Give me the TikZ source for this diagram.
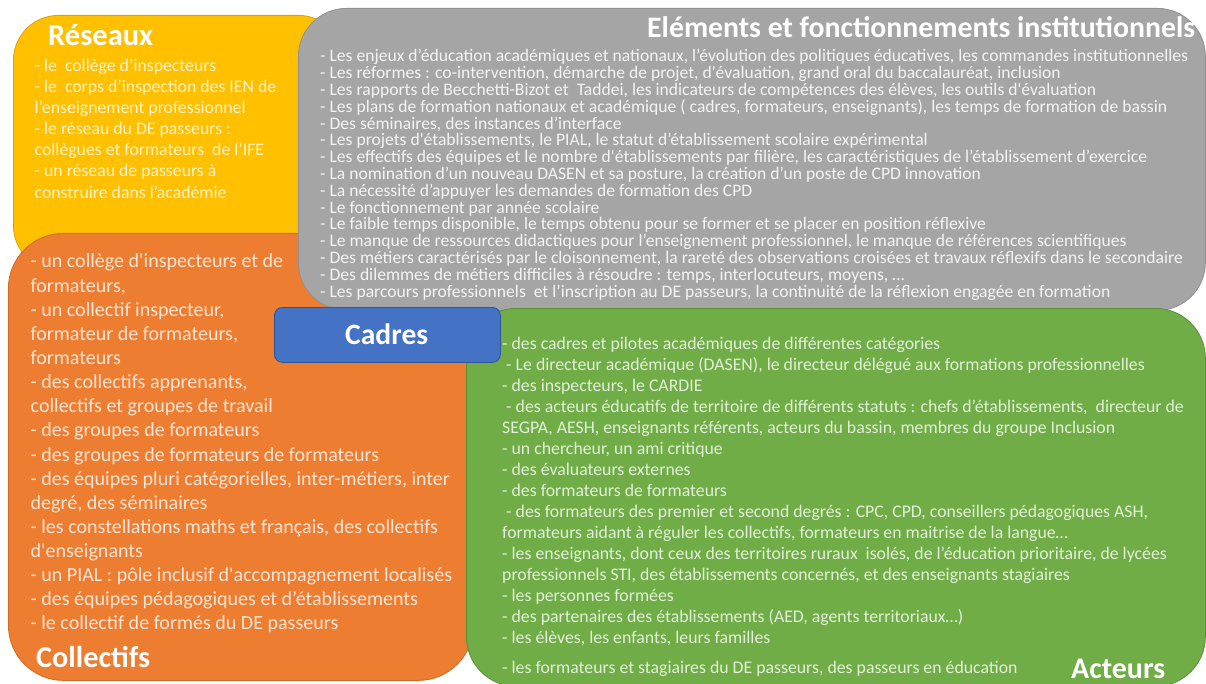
\documentclass[tikz,border=0pt]{standalone}
\usepackage{fontspec}
\setmainfont{Carlito}[Ligatures=TeXOff]
\definecolor{yelfill}{HTML}{FFC000}
\definecolor{yeldraw}{HTML}{D9A400}
\definecolor{yeltext}{HTML}{FFF2CC}
\definecolor{gryfill}{HTML}{A5A5A5}
\definecolor{grydraw}{HTML}{909090}
\definecolor{grytext}{HTML}{F4F4F4}
\definecolor{orafill}{HTML}{ED7D31}
\definecolor{oradraw}{HTML}{D06A28}
\definecolor{oratext}{HTML}{FBE5D6}
\definecolor{grnfill}{HTML}{70AD47}
\definecolor{grndraw}{HTML}{5B8F3A}
\definecolor{grntext}{HTML}{E2F0D9}
\definecolor{blufill}{HTML}{4472C4}
\definecolor{bludraw}{HTML}{2F5597}
\newlength\fitw
\newcommand\fitsize[3]{\settowidth\fitw{\normalfont\fontsize{10}{12}\selectfont #3}\pgfmathsetmacro#1{10*#2/\fitw}}
\tikzset{
  panel/.style={rectangle, rounded corners=#1, line width=0.8pt, inner sep=0pt, anchor=north west},
  linetext/.style={anchor=base west, inner sep=0pt, align=left},
  greyline/.style={linetext, text=grytext, font=\fontsize{\gs}{\gs}\selectfont},
  yelline/.style={linetext, text=yeltext, font=\fontsize{\ys}{\ys}\selectfont},
  oraline/.style={linetext, text=oratext, font=\fontsize{\os}{\os}\selectfont},
  grnline/.style={linetext, text=grntext, font=\fontsize{\vs}{\vs}\selectfont},
  title/.style={anchor=base west, inner sep=0pt, text=white},
}
\begin{document}
\fitsize\gs{868}{- Les enjeux d’éducation académiques et nationaux, l’évolution des politiques éducatives, les commandes institutionnelles}%
\fitsize\ys{241.5}{- le~ corps d’inspection des IEN de}%
\fitsize\os{421.5}{- un PIAL : pôle inclusif d'accompagnement localisés}%
\fitsize\vs{613}{SEGPA, AESH, enseignants référents, acteurs du bassin, membres du groupe Inclusion}%
\fitsize\trs{105}{\bfseries Réseaux}%
\fitsize\tel{548}{\bfseries Eléments et fonctionnements institutionnels}%
\fitsize\tca{83}{\bfseries Cadres}%
\fitsize\tco{114}{\bfseries Collectifs}%
\fitsize\tac{94}{\bfseries Acteurs}%
\begin{tikzpicture}[x=1pt,y=1pt]
\useasboundingbox (0,0) rectangle (1206,-684);
\fill[white] (0,0) rectangle (1206,-684);
% panels
\node[panel=45, fill=yelfill, draw=yeldraw, minimum width=330, minimum height=255] (reseaux) at (13,-15) {};
\node[panel=55, fill=orafill, draw=oradraw, minimum width=465, minimum height=447] (collectifs) at (8,-233) {};
\node[panel=48, fill=gryfill, draw=grydraw, minimum width=907, minimum height=302] (elements) at (298,-8) {};
\node[panel=50, fill=grnfill, draw=grndraw, minimum width=739, minimum height=378] (acteurs) at (466,-308) {};
\node[panel=8, fill=blufill, draw=bludraw, minimum width=226, minimum height=55] (cadres) at (274,-307) {};
% titles
\node[title, font=\fontsize{\trs}{\trs}\selectfont\bfseries] (treseaux) at (48,-46) {Réseaux};
\node[title, font=\fontsize{\tel}{\tel}\selectfont\bfseries] (telements) at (647,-37.5) {Eléments et fonctionnements institutionnels};
\node[title, font=\fontsize{\tca}{\tca}\selectfont\bfseries] (tcadres) at (345,-344.5) {Cadres};
\node[title, font=\fontsize{\tco}{\tco}\selectfont\bfseries] (tcollectifs) at (36,-667) {Collectifs};
\node[title, font=\fontsize{\tac}{\tac}\selectfont\bfseries] (tacteurs) at (1071,-678) {Acteurs};
% grey lines
\foreach \t [count=\i from 0] in {
 {- Les enjeux d’éducation académiques et nationaux, l’évolution des politiques éducatives, les commandes institutionnelles},
 {- Les réformes : co-intervention, démarche de projet, d'évaluation, grand oral du baccalauréat, inclusion},
 {- Les rapports de Becchetti-Bizot et~ Taddei, les indicateurs de compétences des élèves, les outils d'évaluation},
 {- Les plans de formation nationaux et académique ( cadres, formateurs, enseignants), les temps de formation de bassin},
 {- Des séminaires, des instances d’interface},
 {- Les projets d'établissements, le PIAL, le statut d’établissement scolaire expérimental},
 {- Les effectifs des équipes et le nombre d'établissements par filière, les caractéristiques de l’établissement d’exercice},
 {- La nomination d’un nouveau DASEN et sa posture, la création d’un poste de CPD innovation},
 {- La nécessité d’appuyer les demandes de formation des CPD},
 {- Le fonctionnement par année scolaire},
 {- Le faible temps disponible, le temps obtenu pour se former et se placer en position réflexive},
 {- Le manque de ressources didactiques pour l’enseignement professionnel, le manque de références scientifiques},
 {- Des métiers caractérisés par le cloisonnement, la rareté des observations croisées et travaux réflexifs dans le secondaire},
 {- Des dilemmes de métiers difficiles à résoudre : temps, interlocuteurs, moyens, …},
 {- Les parcours professionnels~ et l’inscription au DE passeurs, la continuité de la réflexion engagée en formation}}
 \node[greyline] (g\i) at (320,{-(62+16.8*\i)}) {\t};
% yellow lines
\foreach \t [count=\i from 0] in {
 {- le~ collège d’inspecteurs},
 {- le~ corps d’inspection des IEN de},
 {l’enseignement professionnel},
 {- le réseau du DE passeurs :},
 {collègues et formateurs~ de l’IFE},
 {- un réseau de passeurs à},
 {construire dans l’académie}}
 \node[yelline] (y\i) at (34.5,{-(71.5+21.1*\i)}) {\t};
% orange lines
\foreach \t [count=\i from 0] in {
 {- un collège d'inspecteurs et de},
 {formateurs,},
 {- un collectif inspecteur,},
 {formateur de formateurs,},
 {formateurs},
 {- des collectifs apprenants,},
 {collectifs et groupes de travail},
 {- des groupes de formateurs},
 {- des groupes de formateurs de formateurs},
 {- des équipes pluri catégorielles, inter-métiers, inter},
 {degré, des séminaires},
 {- les constellations maths et français, des collectifs},
 {d'enseignants},
 {- un PIAL : pôle inclusif d'accompagnement localisés},
 {- des équipes pédagogiques et d’établissements},
 {- le collectif de formés du DE passeurs}}
 \node[oraline] (o\i) at (30.5,{-(268+24.13*\i)}) {\t};
% green lines
\foreach \t [count=\i from 0] in {
 {- des cadres et pilotes académiques de différentes catégories},
 {\ - Le directeur académique (DASEN), le directeur délégué aux formations professionnelles},
 {- des inspecteurs, le CARDIE},
 {\ - des acteurs éducatifs de territoire de différents statuts : chefs d’établissements,~ directeur de},
 {SEGPA, AESH, enseignants référents, acteurs du bassin, membres du groupe Inclusion},
 {- un chercheur, un ami critique},
 {- des évaluateurs externes},
 {- des formateurs de formateurs},
 {\ - des formateurs des premier et second degrés : CPC, CPD, conseillers pédagogiques ASH,},
 {formateurs aidant à réguler les collectifs, formateurs en maitrise de la langue…},
 {- les enseignants, dont ceux des territoires ruraux~ isolés, de l’éducation prioritaire, de lycées},
 {professionnels STI, des établissements concernés, et des enseignants stagiaires},
 {- les personnes formées},
 {- des partenaires des établissements (AED, agents territoriaux…)},
 {- les élèves, les enfants, leurs familles}}
 \node[grnline] (v\i) at (502,{-(349+21.07*\i)}) {\t};
\node[grnline] (vlast) at (502,-673) {- les formateurs et stagiaires du DE passeurs, des passeurs en éducation};
\end{tikzpicture}
\end{document}
